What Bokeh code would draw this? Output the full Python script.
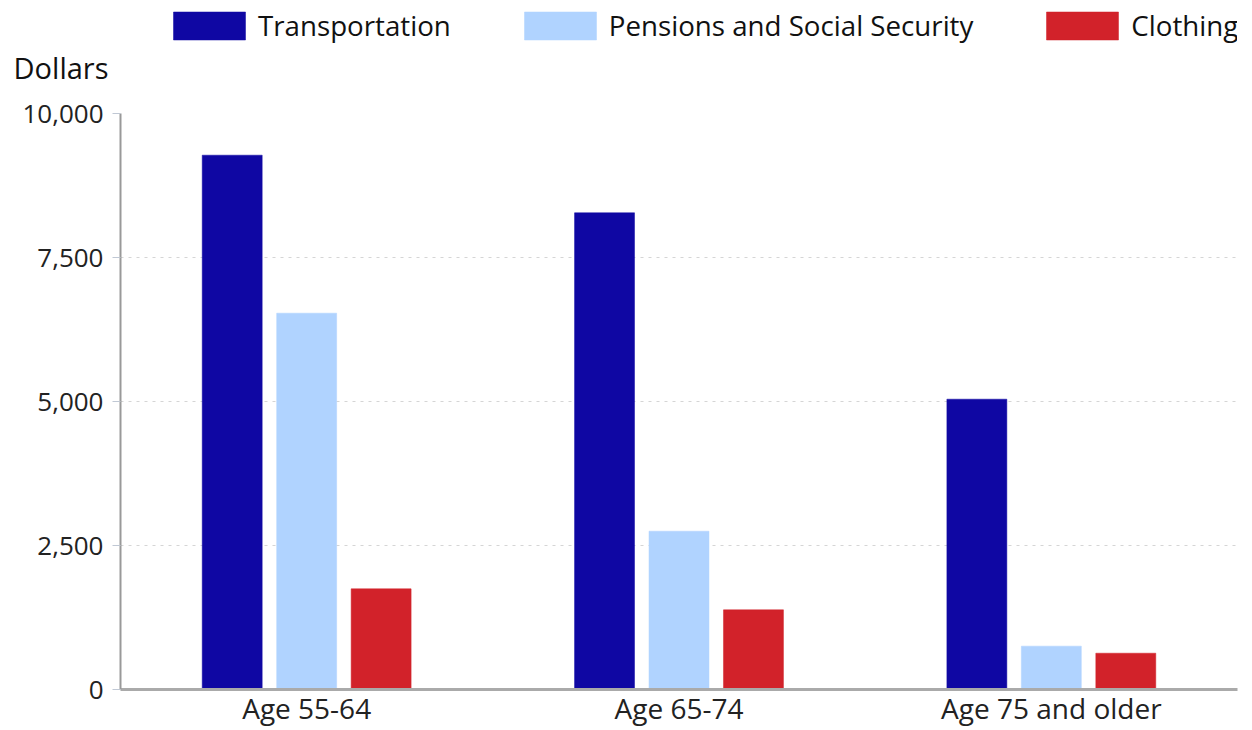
from bokeh.plotting import figure
from bokeh.layouts import column
from bokeh.models import (ColumnDataSource, FactorRange, Legend, LegendItem, LinearAxis,
                          FixedTicker, NumeralTickFormatter, Range1d)
from bokeh.transform import dodge
from bokeh.embed import file_html
from bokeh.resources import INLINE

categories = ["Age 55-64", "Age 65-74", "Age 75 and older"]
transportation = [9276, 8276, 5040]
pensions = [6533, 2748, 752]
clothing = [1748, 1383, 630]
series_names = ["Transportation", "Pensions and Social Security", "Clothing"]
colors = ["#0f07a3", "#b0d3ff", "#d2222a"]
y_ticks = [0, 2500, 5000, 7500, 10000]
unit_label = "Dollars"

FONT = "Open Sans"
W = 1250
TOP_H = 95
MAIN_H = 634

# ---------------- header strip: legend + unit label ----------------
head = figure(width=W, height=TOP_H, x_range=Range1d(0, 1), y_range=Range1d(0, TOP_H),
              x_axis_type=None, y_axis_type=None, output_backend="svg", toolbar_location=None,
              min_border=0)
head.outline_line_color = None
head.xgrid.grid_line_color = None
head.ygrid.grid_line_color = None
# legend key renderers (kept far outside the visible ranges, only their swatches are shown)
swatches = []
for c in colors:
    swatches.append(head.vbar(x=[-50], bottom=[-500], top=[-400], width=1,
                              fill_color=c, line_color=c, line_alpha=0.5))

legend = Legend(items=[LegendItem(label=n, renderers=[r]) for n, r in zip(series_names, swatches)],
                location=(44, 51), orientation="horizontal", glyph_width=90, glyph_height=35,
                label_text_font=FONT, label_text_font_size="27.7px", label_standoff=4,
                label_text_color="#111111", padding=0, margin=0, spacing=64,
                border_line_color=None, background_fill_alpha=0)
head.add_layout(legend, "center")

unit_axis = LinearAxis(ticker=FixedTicker(ticks=[28]), major_label_overrides={28: unit_label},
                       axis_line_color=None, major_tick_line_color=None, minor_tick_line_color=None,
                       major_tick_out=0, major_tick_in=0, major_label_standoff=12,
                       major_label_text_font=FONT, major_label_text_font_size="29px",
                       major_label_text_color="#111111")
head.add_layout(unit_axis, "left")

# ---------------- main chart ----------------
src = ColumnDataSource(dict(cat=categories, t=transportation, p=pensions, c=clothing))

p = figure(width=W, height=MAIN_H, x_range=FactorRange(*categories, range_padding=0),
           y_range=Range1d(0, 10000), output_backend="svg", toolbar_location=None,
           min_border_left=120, min_border_right=13, min_border_top=18, min_border_bottom=40)
p.outline_line_color = None
p.background_fill_color = "white"

p.vbar(x=dodge("cat", -0.2, range=p.x_range), top="t", width=0.161, source=src,
       fill_color=colors[0], line_color=colors[0], line_alpha=0.5)
p.vbar(x=dodge("cat", 0.0, range=p.x_range), top="p", width=0.161, source=src,
       fill_color=colors[1], line_color=colors[1], line_alpha=0.5)
p.vbar(x=dodge("cat", 0.2, range=p.x_range), top="c", width=0.161, source=src,
       fill_color=colors[2], line_color=colors[2], line_alpha=0.5)

p.yaxis.ticker = FixedTicker(ticks=y_ticks)
p.yaxis.formatter = NumeralTickFormatter(format="0,0")
p.yaxis.axis_line_color = "#999999"
p.yaxis.axis_line_width = 2
p.yaxis.major_tick_line_color = "#c0c8d4"
p.yaxis.major_tick_out = 8
p.yaxis.major_tick_in = 0
p.yaxis.minor_tick_line_color = None
p.yaxis.major_label_text_font = FONT
p.yaxis.major_label_text_font_size = "26px"
p.yaxis.major_label_text_color = "#222222"
p.yaxis.major_label_standoff = 9

p.xaxis.axis_line_color = "#aaaaaa"
p.xaxis.axis_line_width = 3
p.xaxis.major_tick_line_color = None
p.xaxis.minor_tick_line_color = None
p.xaxis.major_label_text_font = FONT
p.xaxis.major_label_text_font_size = "28px"
p.xaxis.major_label_text_color = "#222222"
p.xaxis.major_label_standoff = -7

p.xgrid.grid_line_color = None
p.ygrid.ticker = FixedTicker(ticks=y_ticks[1:-1])
p.ygrid.grid_line_color = "#d5d5d5"
p.ygrid.grid_line_dash = "3 5"

layout = column(head, p, spacing=0)
open("out.html", "w").write(file_html(layout, INLINE))
